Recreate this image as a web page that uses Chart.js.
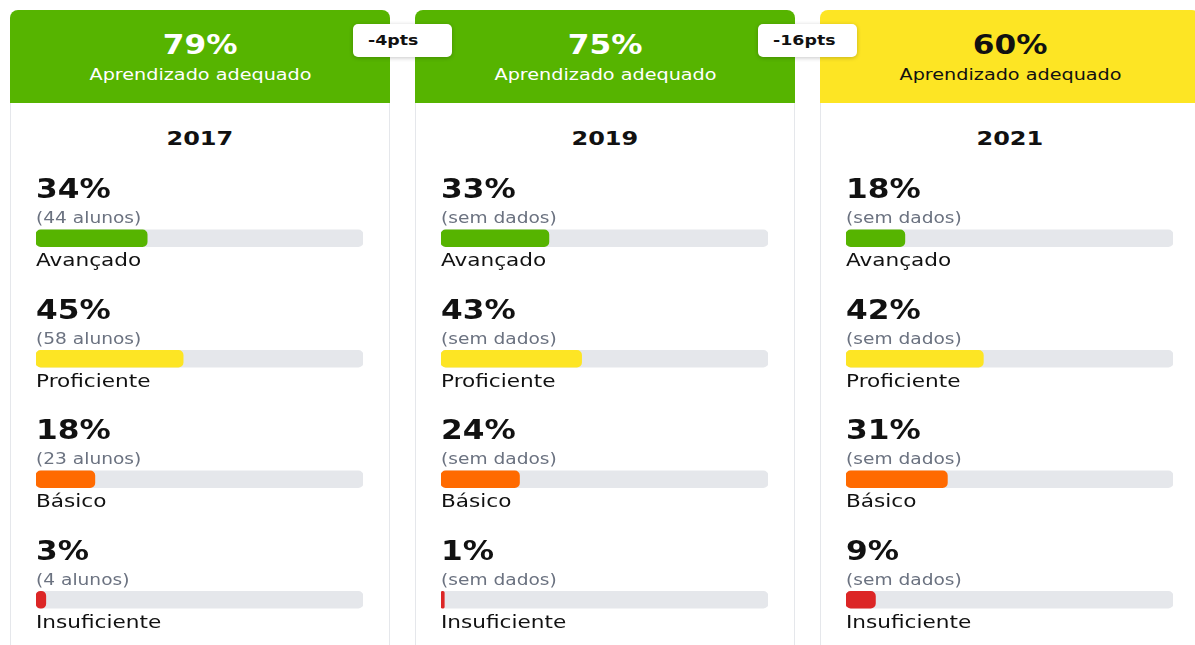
<!DOCTYPE html>
<html lang="pt-BR">
<head>
<meta charset="utf-8">
<title>Aprendizado adequado</title>
<script src="https://cdn.jsdelivr.net/npm/chart.js@4.4.1/dist/chart.umd.min.js"></script>
<style>
  html, body { margin: 0; padding: 0; background: #fff; overflow: hidden; }
  body { width: 1195px; height: 645px; position: relative; font-family: 'DejaVu Sans', sans-serif; }
  .card { position: absolute; top: 10px; width: 380px; height: 700px; }
  .head { position: absolute; left: 0; top: 0; width: 380px; height: 93px; border-radius: 8px 8px 0 0; text-align: center; }
  .head .big { position: absolute; left: 0; right: 0; top: 20px; font-size: 26px; font-weight: bold; line-height: 30px; }
  .head .sub { position: absolute; left: 0; right: 0; top: 55px; font-size: 16px; line-height: 20px; }
  .body { position: absolute; left: 0; top: 93px; width: 380px; height: 607px; box-sizing: border-box;
          border-left: 1px solid #e5e7eb; border-right: 1px solid #e5e7eb; }
  .year { position: absolute; left: 0; right: 0; top: 116px; text-align: center; font-size: 20px; font-weight: bold; line-height: 24px; color: #111; }
  .card canvas { position: absolute; left: 0; top: 140px; }
  .stretch { display: inline-block; transform: scaleX(1.2); white-space: nowrap; }
  .badge { position: absolute; top: 24px; width: 99px; height: 33px; background: #fff; border-radius: 5px;
           box-shadow: 0 1px 4px rgba(0,0,0,0.22); font-size: 14.5px; font-weight: bold; line-height: 33px; color: #111; z-index: 5; }
  .badge .stretch { transform-origin: left center; margin-left: 15px; }
</style>
</head>
<body>
<script>
// ── Dados ───────────────────────────────────────────────────
const YEARS = ['2017', '2019', '2021'];
const ADEQUADO = [79, 75, 60];
const DIFERENCAS = ['-4pts', '-16pts'];
const NIVEIS = ['Avançado', 'Proficiente', 'Básico', 'Insuficiente'];
const NIVEL_CORES = ['#56b400', '#fde524', '#ff6a00', '#dc2626'];
const PCT_2017 = [34, 45, 18, 3];
const PCT_2019 = [33, 43, 24, 1];
const PCT_2021 = [18, 42, 31, 9];
const ALUNOS_2017 = [44, 58, 23, 4];
const ALUNOS_2019 = [null, null, null, null];
const ALUNOS_2021 = [null, null, null, null];
const HEAD_CORES = ['#56b400', '#56b400', '#fde524'];
const HEAD_TEXTO = ['#fff', '#fff', '#111'];
const TRACK = [100, 100, 100, 100];

const PERCENTUAIS = [PCT_2017, PCT_2019, PCT_2021];
const ALUNOS = [ALUNOS_2017, ALUNOS_2019, ALUNOS_2021];

const FONT = '"DejaVu Sans", sans-serif';
const STRETCH = 1.2;

// texto com leve alargamento horizontal
function drawStretched(ctx, text, x, y, font, color) {
    ctx.save();
    ctx.font = font;
    ctx.fillStyle = color;
    ctx.textAlign = 'left';
    ctx.textBaseline = 'alphabetic';
    ctx.translate(x, y);
    ctx.scale(STRETCH, 1);
    ctx.fillText(text, 0, 0);
    ctx.restore();
}

// ── Plugin: percentual, nº de alunos e nome do nível ────────
const rowText = {
    id: 'rowText',
    afterDatasetsDraw(chart, args, opts) {
        const { ctx, chartArea, scales } = chart;
        const x = chartArea.left;
        opts.values.forEach((v, i) => {
            const y = scales.y.getPixelForValue(i);
            const nota = opts.alunos[i] == null ? '(sem dados)' : `(${opts.alunos[i]} alunos)`;
            drawStretched(ctx, `${v}%`, x, y - 40, `bold 26px ${FONT}`, '#111');
            drawStretched(ctx, nota, x, y - 15, `15.5px ${FONT}`, '#6b7280');
            drawStretched(ctx, NIVEIS[i], x, y + 28, `18px ${FONT}`, '#111');
        });
    },
};

function el(tag, cls, parent, text) {
    const e = document.createElement(tag);
    if (cls) e.className = cls;
    if (text !== undefined) {
        const s = document.createElement('span');
        s.className = 'stretch';
        s.textContent = text;
        e.appendChild(s);
    }
    if (parent) parent.appendChild(e);
    return e;
}

function renderCard(idx) {
    const left = 10 + idx * 405;
    const card = el('div', 'card', document.body);
    card.style.left = left + 'px';

    const head = el('div', 'head', card);
    head.style.background = HEAD_CORES[idx];
    head.style.color = HEAD_TEXTO[idx];
    el('div', 'big', head, `${ADEQUADO[idx]}%`);
    el('div', 'sub', head, 'Aprendizado adequado');

    el('div', 'body', card);
    el('div', 'year', card, YEARS[idx]);

    const canvas = document.createElement('canvas');
    canvas.width = 380;
    canvas.height = 520;
    card.appendChild(canvas);

    const barStyle = { barThickness: 17, borderRadius: 5, borderSkipped: false, grouped: false };

    new Chart(canvas, {
        type: 'bar',
        data: {
            labels: NIVEIS,
            datasets: [
                { data: PERCENTUAIS[idx], backgroundColor: NIVEL_CORES, ...barStyle },
                { data: TRACK, backgroundColor: '#e5e7eb', ...barStyle },
            ],
        },
        options: {
            indexAxis: 'y',
            responsive: false,
            animation: false,
            events: [],
            layout: { padding: { left: 26, right: 27, top: 28, bottom: 10 } },
            scales: {
                x: { type: 'linear', min: 0, max: 100, display: false },
                y: { type: 'category', display: false },
            },
            plugins: {
                legend: { display: false },
                tooltip: { enabled: false },
                rowText: { values: PERCENTUAIS[idx], alunos: ALUNOS[idx] },
            },
        },
        plugins: [rowText],
    });
}

YEARS.forEach((_, i) => renderCard(i));

// selos de variação entre os anos, centrados no espaço entre os cartões
DIFERENCAS.forEach((txt, i) => {
    const b = el('div', 'badge', document.body, txt);
    b.style.left = (10 + 380 + i * 405 + 12.5 - 49.5) + 'px';
});
</script>
</body>
</html>
